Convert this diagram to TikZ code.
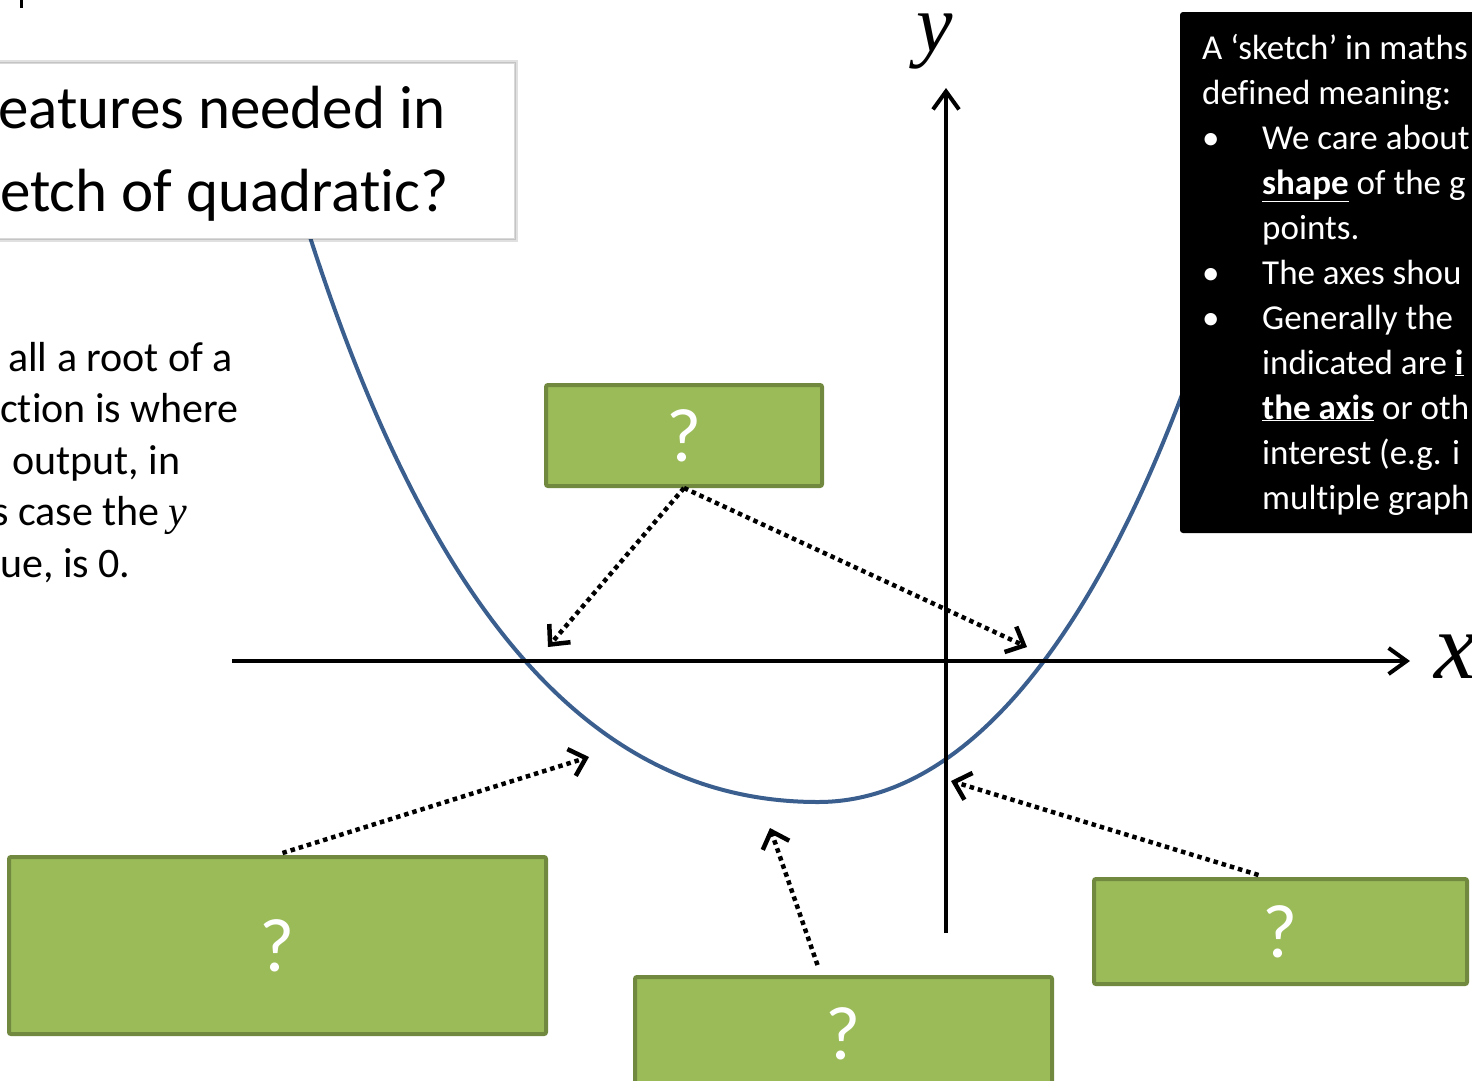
\documentclass[tikz,border=0pt]{standalone}
\usepackage{fontspec}
\setmainfont{Carlito}[Ligatures=NoCommon]
\newfontfamily\mathlike{Liberation Serif}
\usetikzlibrary{arrows.meta,calc}
\definecolor{gfill}{HTML}{9BBB59}
\definecolor{gdraw}{HTML}{71893F}
\definecolor{curvecol}{HTML}{3A5F8F}
\newcommand{\mvar}[1]{{\mathlike\itshape #1}}
\tikzset{
  qbox/.style={draw=gdraw, fill=gfill, line width=4pt, rounded corners=2pt, inner sep=0pt,
    text=white, font=\fontsize{76}{80}\selectfont},
  darr/.style={line width=4.5pt, dash pattern=on 4.5pt off 4pt,
    -{Straight Barb[length=15pt,width=28pt,line width=4.5pt]}},
  axisline/.style={line width=4pt, -{Straight Barb[length=18pt,width=26pt,line width=4pt]}},
  lefttext/.style={anchor=base west, inner sep=0pt, font=\fontsize{42}{51}\selectfont},
  boxtext/.style={anchor=base west, inner sep=0pt, text=white, font=\fontsize{35}{45}\selectfont},
  titletext/.style={anchor=base west, inner sep=0pt, font=\fontsize{61}{83}\selectfont},
}
\begin{document}
\begin{tikzpicture}[x=1pt,y=-1pt]
\useasboundingbox (0,0) rectangle (1472,1080);
\clip (0,0) rectangle (1472,1080);
\fill[white] (0,0) rectangle (1472,1080);

% small fragment at top left
\draw[line width=3pt] (21.5,0) -- (21.5,8);

% curve
\coordinate (c0) at (302,212);
\coordinate (c1) at (310,237);
\coordinate (cm) at (818,802);
\coordinate (c2) at (1180,400);
\coordinate (c3) at (1190,374);
\draw[curvecol, line width=4pt] (c0) -- (c1)
  .. controls (440,640) and (608,802) .. (cm)
  .. controls (1018,802) and (1140,504) .. (c2) -- (c3);

% axes
\coordinate (xs) at (232,661);
\coordinate (xe) at (1410,661);
\coordinate (ys) at (946,933);
\coordinate (ye) at (946,88);
\draw[axisline] (xs) -- (xe);
\draw[axisline] (ys) -- (ye);
\node[anchor=base, inner sep=0pt] (ylab) at (935,51) {\fontsize{82}{82}\selectfont\mvar{y}};
\node[anchor=base west, inner sep=0pt] (xlab) at (1434,678) {\fontsize{95}{95}\selectfont\mvar{x}};

% title box
\fill[black, opacity=0.12] (-20,60) rectangle (518,242);
\fill[black, opacity=0.12] (-20,62) rectangle (516,240);
\draw[fill=white, draw=gray!30, line width=0.8pt] (-20,63) rectangle (514,238);
\node[titletext] (t1) at (-2,128) {eatures needed in};
\node[titletext] (t2) at (0,211) {etch of quadratic?};

% left text
\node[lefttext] (l1) at (8,371) {all a root of a};
\node[lefttext] (l2) at (0,422.5) {ction is where};
\node[lefttext] (l3) at (12,474) {output, in};
\node[lefttext] (l4) at (-8,525.5) {s case the \mvar{y}};
\node[lefttext] (l5) at (0,577) {ue, is 0.};

% black box
\fill[black, rounded corners=3pt] (1180,12) rectangle (1500,533);
\node[boxtext] (r0) at (1202,59) {A ‘sketch’ in maths};
\node[boxtext] (r1) at (1202,104) {defined meaning:};
\node[boxtext] (b1) at (1202,149) {•};
\node[boxtext] (r2) at (1262,149) {We care about};
\node[boxtext] (r3) at (1262,194) {\underline{\textbf{shape}} of the g};
\node[boxtext] (r4) at (1262,239) {points.};
\node[boxtext] (b2) at (1202,284) {•};
\node[boxtext] (r5) at (1262,284) {The axes shou};
\node[boxtext] (b3) at (1202,329) {•};
\node[boxtext] (r6) at (1262,329) {Generally the};
\node[boxtext] (r7) at (1262,374) {indicated are \underline{\textbf{i}}};
\node[boxtext] (r8) at (1262,419) {\underline{\textbf{the axis}} or oth};
\node[boxtext] (r9) at (1262,464) {interest (e.g. i};
\node[boxtext] (r10) at (1262,509) {multiple graph};

% green boxes
\node[qbox, minimum width=276pt, minimum height=101pt] (g1) at (684,435.5) {?};
\node[qbox, minimum width=537pt, minimum height=177pt] (g2) at (277.5,945.5) {?};
\node[qbox, minimum width=417pt, minimum height=113pt] (g3) at (843.5,1033.5) {?};
\node[qbox, minimum width=373pt, minimum height=105pt] (g4) at (1280.5,931.5) {?};

% arrow targets
\coordinate (tA) at (548,647);
\coordinate (tB) at (1027,647);
\coordinate (tC) at (589,757);
\coordinate (tD) at (770,828);
\coordinate (tE) at (951,781);

\draw[darr] (g1.south) -- (tA);
\draw[darr] (g1.south) -- (tB);
\draw[darr] ($(g2.north)+(5,-2)$) -- (tC);
\draw[darr] ($(g3.north)+(-26,-10)$) -- (tD);
\draw[darr] ($(g4.north)+(-22,-2)$) -- (tE);
\end{tikzpicture}
\end{document}
